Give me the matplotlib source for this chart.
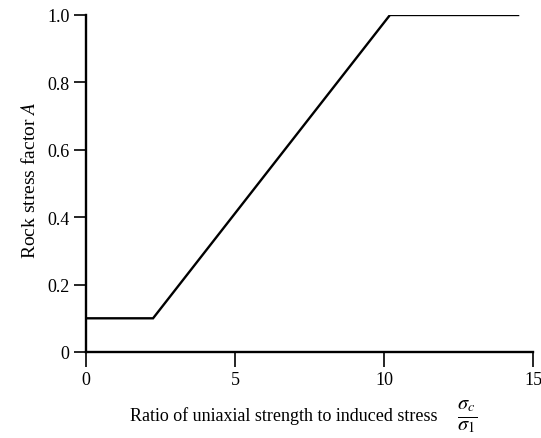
import matplotlib
matplotlib.use("Agg")
import matplotlib.pyplot as plt

ratio = [0, 2.25, 10.2, 14.5]
factor_A = [0.1, 0.1, 1.0, 1.0]
x_ticks = [0, 5, 10, 15]
y_ticks = [0, 0.2, 0.4, 0.6, 0.8, 1.0]
y_tick_labels = ["0", "0.2", "0.4", "0.6", "0.8", "1.0"]

plt.rcParams['font.family'] = ['Liberation Serif', 'DejaVu Serif']
plt.rcParams['mathtext.fontset'] = 'stix'

fig = plt.figure(figsize=(5.41, 4.39), dpi=100)
ax = fig.add_axes([86/541, 86/439, (533-86)/541, (353-16)/439])
ax.plot(ratio, factor_A, color='black', lw=1.7, solid_joinstyle='miter')
ax.set_xlim(0, 15)
ax.set_ylim(0, 1.0)
ax.spines['top'].set_visible(False)
ax.spines['right'].set_visible(False)
for s in ['left', 'bottom']:
    ax.spines[s].set_linewidth(1.7)
ax.set_xticks(x_ticks)
ax.set_yticks(y_ticks)
ax.set_yticklabels(y_tick_labels)
ax.tick_params(axis='both', direction='out', length=9, width=1.2, labelsize=13, pad=3)
ax.tick_params(axis='x', length=11, pad=3)
fig.text(30/541, 1 - 180/439, "Rock stress factor $A$", fontsize=14, rotation=90,
         ha='center', va='center')
fig.text(130/541, 1 - 416/439, "Ratio of uniaxial strength to induced stress",
         fontsize=13, ha='left', va='center')
fig.text(467/541, 1 - 417/439, r"$\frac{\sigma_c}{\sigma_1}$", fontsize=21,
         ha='center', va='center')
fig.savefig("out.png", dpi=100)
